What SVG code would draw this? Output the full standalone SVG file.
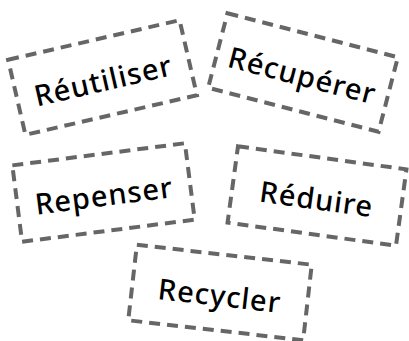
<svg xmlns="http://www.w3.org/2000/svg" width="409" height="341" viewBox="0 0 409 341">
<style>
.box{fill:none;stroke:#666;stroke-width:4;stroke-dasharray:11 7}
.lbl{font-family:"Noto Sans","Open Sans",sans-serif;font-size:29px;font-weight:500;letter-spacing:1px;fill:#000;text-anchor:middle;dominant-baseline:central}
</style>
<rect width="409" height="341" fill="#fff"/>
<g id="connectors"/>
<g id="reutiliser" transform="translate(102.5,77.5) rotate(-13)">
<rect class="box" x="-88" y="-38.5" width="176" height="77"/>
<text class="lbl" x="0" y="2">Réutiliser</text>
</g>
<g id="recuperer" transform="translate(303,72.5) rotate(14.5)">
<rect class="box" x="-88" y="-38.5" width="176" height="77"/>
<text class="lbl" x="0" y="2">Récupérer</text>
</g>
<g id="repenser" transform="translate(103.5,192.5) rotate(-7.3)">
<rect class="box" x="-87" y="-38.5" width="174" height="77"/>
<text class="lbl" x="0" y="2">Repenser</text>
</g>
<g id="reduire" transform="translate(317,196) rotate(7.8)">
<rect class="box" x="-85" y="-38.5" width="170" height="77"/>
<text class="lbl" x="0" y="2">Réduire</text>
</g>
<g id="recycler" transform="translate(220,292.5) rotate(6.5)">
<rect class="box" x="-88" y="-38" width="176" height="76"/>
<text class="lbl" x="0" y="2">Recycler</text>
</g>
</svg>
